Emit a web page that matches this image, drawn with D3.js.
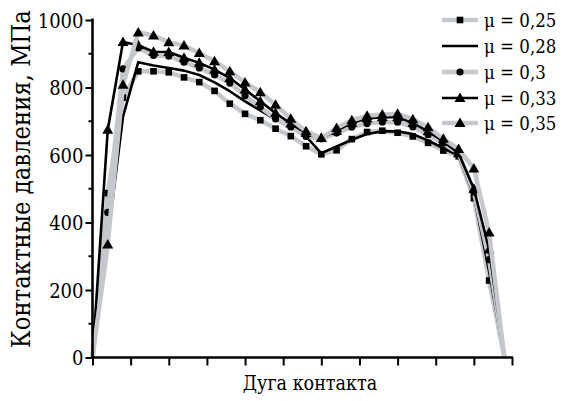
<!DOCTYPE html>
<html lang="ru">
<head>
  <meta charset="UTF-8"/>
  <title>Контактные давления</title>
  <style>
    *{margin:0;padding:0}
    body{background:#fff;width:563px;height:401px;overflow:hidden}
  </style>
</head>
<body>
  <div id="chart"></div>
  <script src="https://d3js.org/d3.v7.min.js"></script>
  <script>
    // point index along the contact arc (28 points, 0..27)
    const pointIdx = d3.range(28);

    const seriesNames = ['μ = 0,25','μ = 0,28','μ = 0,3','μ = 0,33','μ = 0,35'];

    const mu025 = [0,487,770,848,848,845,830,816,790,752,722,703,678,656,626,602,614,647,668,672,666,655,636,613,596,472,228,0];
    const mu028 = [0,350,714,875,865,858,850,837,815,789,759,732,705,683,655,605,625,645,662,670,670,662,643,620,598,480,255,0];
    const mu030 = [0,430,855,917,895,893,875,858,838,813,776,742,707,683,655,648,665,683,693,698,697,684,660,635,605,490,290,0];
    const mu033 = [0,675,935,925,906,905,888,873,853,828,794,759,724,693,665,650,672,695,708,712,712,695,670,640,605,500,320,0];
    const mu035 = [0,335,808,963,954,934,924,902,878,848,815,786,749,707,670,650,680,703,716,720,722,706,682,648,618,560,370,0];

    const seriesValues = [mu025, mu028, mu030, mu033, mu035];
    const seriesStyle = [
      {line:'gray',  marker:'square'},
      {line:'black', marker:null},
      {line:'gray',  marker:'circle'},
      {line:'black', marker:'triangle'},
      {line:'gray',  marker:'triangle'}
    ];

    const yTicks = [0,200,400,600,800,1000];
    const yMinor = [100,300,500,700,900];
    const xTicks = d3.range(0, 27.6, 2.5);

    const FONT = '"DejaVu Serif Condensed","Liberation Serif",serif';
    const W = 563, H = 401;
    const x = d3.scaleLinear().domain([0,27.5]).range([92.5,512]);
    const y = d3.scaleLinear().domain([0,1000]).range([357.5,20]);

    const svg = d3.select('#chart').append('svg')
      .attr('width',W).attr('height',H);

    const lineColor = {gray:'#c4c8cc', black:'#000'};
    const lineWidth = {gray:4.5, black:2.6};

    const line = d3.line().x((d,i)=>x(pointIdx[i])).y(d=>y(d));

    function drawMarker(g, type, cx, cy) {
      if(type==='square')
        g.append('rect').attr('x',cx-3.3).attr('y',cy-3.3).attr('width',6.6).attr('height',6.6).attr('fill','#000');
      else if(type==='circle')
        g.append('circle').attr('cx',cx).attr('cy',cy).attr('r',3.6).attr('fill','#000');
      else if(type==='triangle')
        g.append('path').attr('d',d3.symbol(d3.symbolTriangle,52)()).attr('transform',`translate(${cx},${cy+0.8})`).attr('fill','#000');
    }

    // series
    seriesValues.forEach((vals,k)=>{
      const st = seriesStyle[k];
      const g = svg.append('g');
      g.append('path').datum(vals).attr('d',line)
        .attr('fill','none').attr('stroke',lineColor[st.line])
        .attr('stroke-width',lineWidth[st.line]).attr('stroke-linejoin','round');
      if(st.marker) vals.forEach((v,i)=>{ if(i>0 && i<27) drawMarker(g, st.marker, x(pointIdx[i]), y(v)); });
    });

    // axes
    const yAxis = d3.axisLeft(y).tickValues(yTicks).tickSize(7).tickPadding(2).tickFormat(d3.format('d'));
    const ga = svg.append('g').attr('transform','translate(92.5,0)').call(yAxis)
      .attr('font-family',FONT).attr('font-size',20);
    ga.select('.domain').attr('stroke-width',2.6).attr('d','M0,357.5V18.5');
    ga.selectAll('.tick line').attr('stroke-width',2);
    ga.selectAll('.tick text').attr('dy','0.36em');
    svg.append('g').selectAll('line').data(yMinor).join('line')
      .attr('x1',88.5).attr('x2',92.5).attr('y1',d=>y(d)).attr('y2',d=>y(d))
      .attr('stroke','#000').attr('stroke-width',2);

    const xAxis = d3.axisBottom(x).tickValues(xTicks).tickSize(8).tickFormat('');
    const gx = svg.append('g').attr('transform','translate(0,357.5)').call(xAxis);
    gx.select('.domain').attr('stroke-width',2.6).attr('d','M91.2,0H513');
    gx.selectAll('.tick line').attr('stroke-width',2);

    // axis titles
    svg.append('text').attr('x',310).attr('y',390).attr('text-anchor','middle')
      .attr('font-family',FONT).attr('font-size',19.5).text('Дуга контакта');
    const yTitle = svg.append('text').attr('transform','translate(30,179) rotate(-90)').attr('text-anchor','middle')
      .attr('font-family',FONT).attr('font-size',22).text('Контактные давления, МПа');
    // fit title to the span it has in the original (about 338px)
    const len = yTitle.node().getComputedTextLength();
    if(len>0) yTitle.attr('font-size', 22*338/len);

    // legend
    const legY = [20,46,72,98,123];
    seriesNames.forEach((name,k)=>{
      const st = seriesStyle[k];
      const g = svg.append('g');
      g.append('line').attr('x1',442).attr('x2',478).attr('y1',legY[k]).attr('y2',legY[k])
        .attr('stroke',lineColor[st.line]).attr('stroke-width',lineWidth[st.line]);
      if(st.marker) drawMarker(g, st.marker, 460, legY[k]);
      g.append('text').attr('x',484).attr('y',legY[k]+6.5)
        .attr('font-family',FONT).attr('font-size',18.5).text(name);
    });
  </script>
</body>
</html>
